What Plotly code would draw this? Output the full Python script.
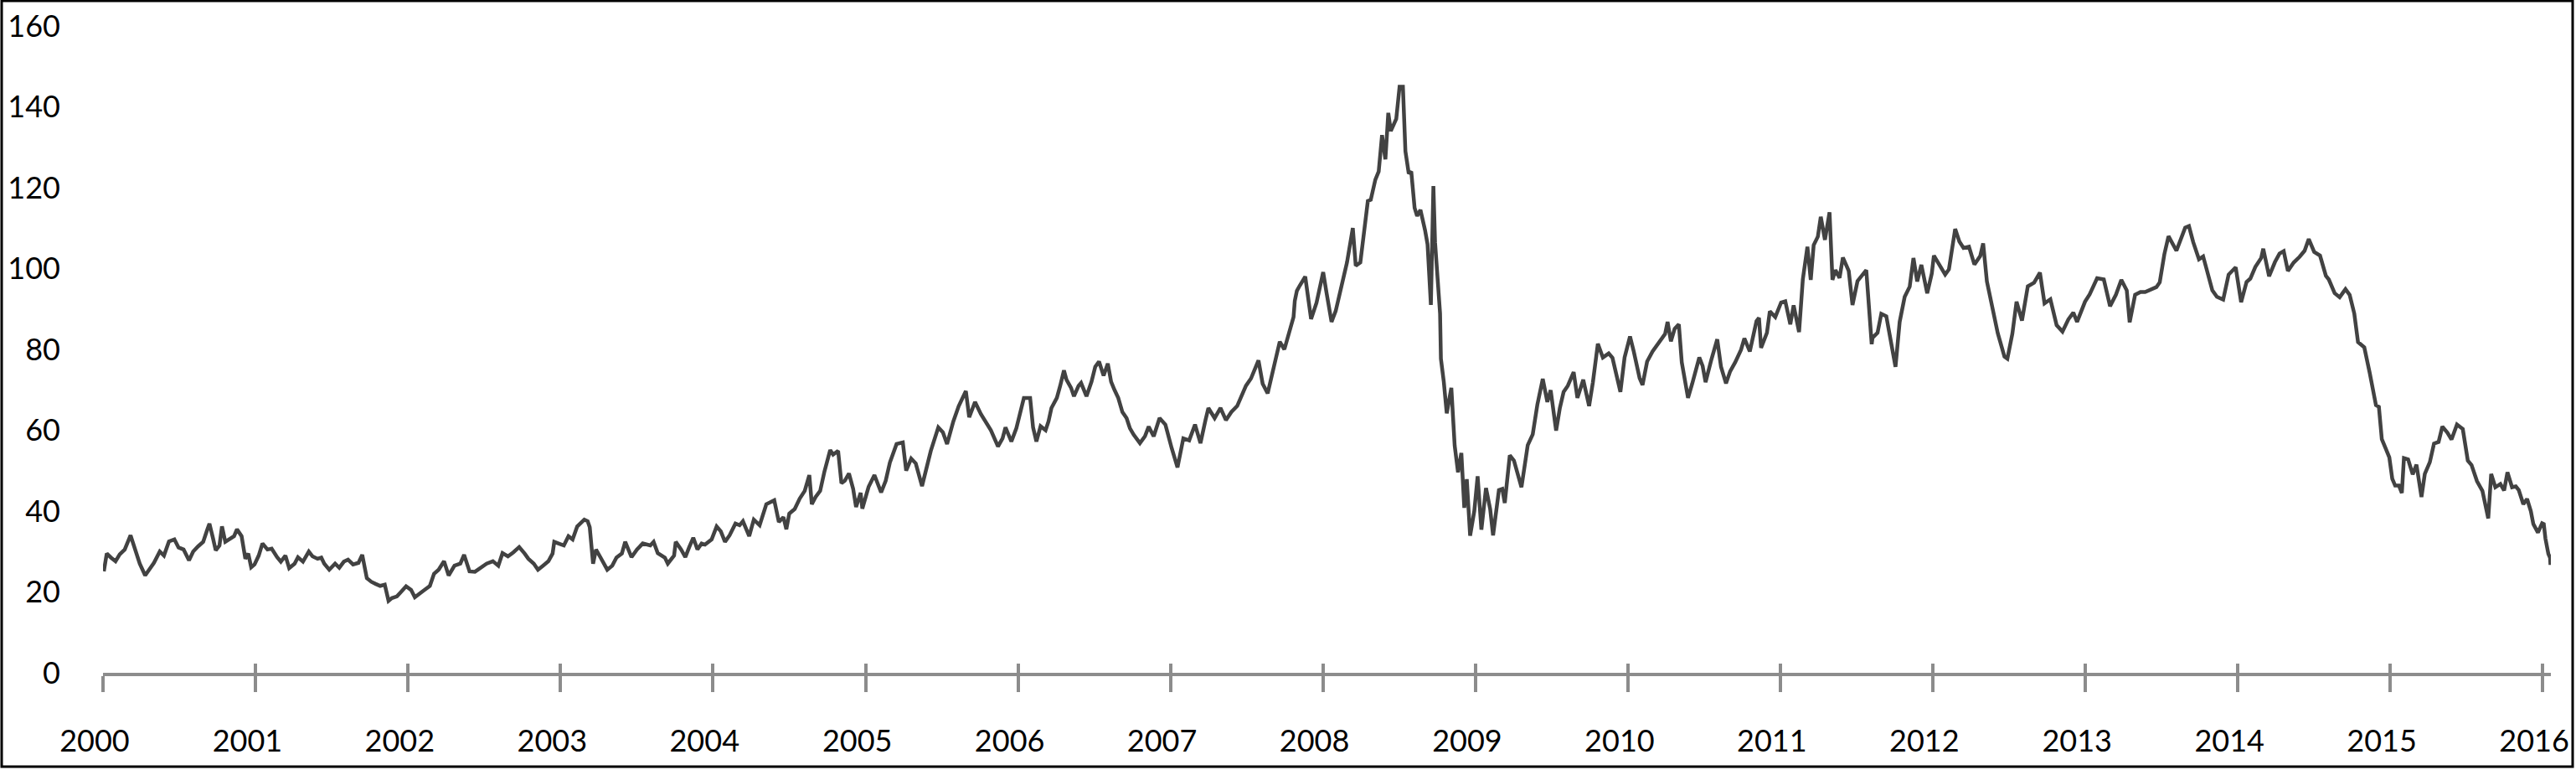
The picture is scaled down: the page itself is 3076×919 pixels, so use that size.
import plotly.graph_objects as go

# Daily crude price (USD/bbl) at roughly 2-3 points per month
wti_2000 = [("01-03", 25.1), ("01-10", 29.5), ("01-20", 28.5), ("01-31", 27.6), ("02-10", 29.3), ("02-22", 30.5),
            ("03-07", 34.0), ("03-17", 31.0), ("03-29", 27.0), ("04-11", 24.1), ("04-20", 25.5), ("05-02", 27.2),
            ("05-16", 30.0), ("05-26", 29.0), ("06-07", 32.5), ("06-20", 33.0), ("06-30", 31.0), ("07-12", 30.5),
            ("07-25", 27.8), ("08-04", 30.0), ("08-16", 31.3), ("08-28", 32.4), ("09-07", 35.5), ("09-12", 36.9),
            ("09-20", 33.5), ("09-27", 30.3), ("10-06", 31.5), ("10-12", 36.2), ("10-20", 32.4), ("10-30", 33.0),
            ("11-10", 33.8), ("11-17", 35.5), ("11-28", 33.8), ("12-07", 28.2), ("12-14", 29.5), ("12-21", 26.1),
            ("12-29", 26.8)]
wti_2001 = [("01-08", 29.0), ("01-17", 32.0), ("01-29", 30.5), ("02-08", 30.7), ("02-21", 28.6), ("03-02", 27.5),
            ("03-13", 29.0), ("03-22", 25.9), ("04-04", 27.0), ("04-12", 28.6), ("04-24", 27.5), ("05-08", 30.0),
            ("05-17", 28.8), ("05-29", 28.2), ("06-07", 28.5), ("06-14", 27.0), ("06-26", 25.5), ("07-10", 27.0),
            ("07-20", 26.0), ("07-31", 27.5), ("08-10", 28.0), ("08-22", 26.8), ("09-04", 27.2), ("09-13", 29.2),
            ("09-24", 23.4), ("10-05", 22.5), ("10-15", 22.0), ("10-26", 21.5), ("11-06", 21.8), ("11-15", 17.8),
            ("11-23", 18.5), ("12-05", 18.9), ("12-13", 19.8), ("12-27", 21.4)]
wti_2002 = [("01-08", 20.5), ("01-17", 18.7), ("01-31", 19.8), ("02-12", 20.7), ("02-22", 21.5), ("03-04", 24.5),
            ("03-15", 25.5), ("03-28", 27.6), ("04-08", 24.1), ("04-22", 26.5), ("05-06", 27.0), ("05-15", 29.2),
            ("05-28", 25.1), ("06-10", 25.0), ("06-24", 26.1), ("07-08", 27.0), ("07-23", 27.6), ("08-05", 26.5),
            ("08-15", 29.6), ("08-28", 28.8), ("09-10", 29.8), ("09-24", 31.1), ("10-07", 29.5), ("10-16", 28.2),
            ("10-29", 27.0), ("11-08", 25.5), ("11-20", 26.5), ("12-03", 27.6), ("12-13", 29.5), ("12-17", 32.4),
            ("12-27", 32.0)]
wti_2003 = [("01-09", 31.5), ("01-20", 33.8), ("01-30", 33.0), ("02-10", 36.2), ("02-27", 37.9), ("03-07", 37.5),
            ("03-12", 36.0), ("03-20", 27.0), ("03-27", 30.5), ("04-07", 28.5), ("04-23", 25.5), ("05-05", 26.5),
            ("05-15", 28.5), ("05-28", 29.5), ("06-05", 32.4), ("06-20", 28.6), ("07-03", 30.5), ("07-17", 32.0),
            ("08-04", 31.5), ("08-12", 32.4), ("08-22", 29.6), ("09-08", 28.5), ("09-15", 27.0), ("09-30", 29.0),
            ("10-04", 32.4), ("10-17", 30.5), ("10-27", 28.6), ("11-05", 31.0), ("11-15", 33.4), ("11-25", 30.5),
            ("12-05", 32.0), ("12-13", 31.7), ("12-29", 33.0)]
wti_2004 = [("01-10", 36.2), ("01-20", 35.0), ("01-30", 32.4), ("02-10", 34.0), ("02-24", 36.9), ("03-05", 36.5),
            ("03-13", 37.5), ("03-28", 33.8), ("04-08", 37.9), ("04-22", 36.5), ("05-08", 41.7), ("05-27", 42.7),
            ("06-07", 37.3), ("06-18", 38.5), ("06-25", 35.5), ("07-02", 39.4), ("07-15", 40.5), ("07-27", 43.1),
            ("08-08", 45.0), ("08-19", 48.9), ("08-25", 41.7), ("09-03", 43.5), ("09-14", 45.0), ("09-24", 49.7),
            ("10-08", 55.1), ("10-15", 54.0), ("10-27", 54.9), ("11-04", 46.9), ("11-12", 47.5), ("11-22", 49.3),
            ("12-02", 45.5), ("12-09", 41.0), ("12-20", 44.5), ("12-24", 40.6)]
wti_2005 = [("01-08", 46.0), ("01-22", 48.9), ("02-07", 44.6), ("02-18", 47.5), ("02-28", 52.0), ("03-16", 56.6),
            ("03-31", 57.0), ("04-08", 50.0), ("04-20", 53.0), ("05-01", 51.8), ("05-16", 46.2), ("05-27", 50.5),
            ("06-06", 54.9), ("06-24", 60.7), ("07-05", 59.5), ("07-15", 56.6), ("07-30", 62.2), ("08-12", 66.0),
            ("08-29", 69.7), ("09-06", 63.2), ("09-20", 67.0), ("10-04", 64.0), ("10-16", 62.2), ("10-28", 60.0),
            ("11-14", 56.0), ("11-25", 58.0), ("12-02", 60.7), ("12-16", 57.2), ("12-28", 60.5)]
wti_2006 = [("01-15", 68.0), ("01-30", 68.0), ("02-06", 60.7), ("02-14", 57.2), ("02-24", 61.0), ("03-08", 60.0),
            ("03-15", 62.2), ("03-22", 65.5), ("04-04", 68.0), ("04-12", 71.0), ("04-21", 74.8), ("04-27", 72.5),
            ("05-08", 70.5), ("05-15", 68.4), ("05-26", 71.0), ("06-01", 71.7), ("06-14", 68.4), ("06-26", 72.0),
            ("07-05", 75.7), ("07-14", 77.0), ("07-25", 73.5), ("08-04", 76.5), ("08-12", 72.0), ("08-20", 70.0),
            ("08-29", 68.0), ("09-08", 64.5), ("09-18", 63.0), ("09-26", 60.5), ("10-05", 58.9), ("10-20", 56.8),
            ("11-01", 58.5), ("11-10", 60.9), ("11-22", 58.5), ("12-06", 63.0), ("12-20", 61.4)]
wti_2007 = [("01-04", 55.6), ("01-18", 50.8), ("02-01", 58.0), ("02-15", 57.5), ("03-01", 61.4), ("03-14", 56.8),
            ("03-26", 62.5), ("04-02", 65.5), ("04-17", 63.0), ("05-01", 65.5), ("05-14", 62.5), ("05-27", 64.5),
            ("06-10", 66.0), ("06-22", 69.1), ("07-01", 71.0), ("07-13", 72.8), ("07-31", 77.3), ("08-10", 71.5),
            ("08-22", 69.1), ("09-02", 74.0), ("09-12", 78.5), ("09-20", 81.9), ("10-01", 80.0), ("10-12", 84.4),
            ("10-23", 88.0), ("10-26", 92.0), ("10-31", 94.5), ("11-07", 95.8), ("11-20", 98.0), ("11-28", 92.0),
            ("12-04", 87.5), ("12-17", 91.5), ("12-27", 96.0)]
wti_2008 = [("01-02", 99.1), ("01-10", 94.0), ("01-22", 86.8), ("02-01", 89.5), ("02-14", 95.5), ("02-28", 101.5),
            ("03-13", 110.0), ("03-20", 100.7), ("03-31", 101.5), ("04-09", 110.0), ("04-18", 116.7), ("04-25", 117.0),
            ("05-06", 122.0), ("05-14", 124.0), ("05-22", 133.0), ("05-30", 127.0), ("06-06", 138.5), ("06-12", 134.0),
            ("06-25", 137.0), ("07-03", 145.0), ("07-11", 145.0), ("07-17", 129.0), ("07-25", 123.5), ("07-31", 124.0),
            ("08-08", 115.0), ("08-14", 113.0), ("08-22", 114.5), ("09-02", 109.5), ("09-08", 106.0), ("09-16", 91.0),
            ("09-22", 120.4), ("09-26", 106.5), ("10-01", 98.5), ("10-08", 88.9), ("10-10", 77.7), ("10-17", 71.9),
            ("10-24", 64.2), ("11-04", 70.5), ("11-12", 56.2), ("11-20", 49.6), ("11-28", 54.4), ("12-05", 40.8),
            ("12-11", 47.9), ("12-19", 33.9), ("12-29", 40.0)]
wti_2009 = [("01-06", 48.6), ("01-15", 35.4), ("01-26", 45.7), ("02-05", 40.5), ("02-12", 34.0), ("02-26", 45.2),
            ("03-06", 45.5), ("03-12", 42.0), ("03-24", 53.8), ("04-03", 52.5), ("04-21", 45.9), ("05-06", 56.3),
            ("05-18", 59.0), ("05-29", 66.3), ("06-11", 72.7), ("06-22", 67.0), ("06-30", 69.9), ("07-13", 59.9),
            ("07-22", 65.5), ("07-31", 69.5), ("08-10", 71.0), ("08-24", 74.4), ("09-02", 68.0), ("09-16", 72.5),
            ("09-30", 66.0), ("10-09", 71.8), ("10-21", 81.4), ("11-02", 78.0), ("11-16", 79.0), ("11-25", 77.9),
            ("12-08", 72.5), ("12-14", 69.5), ("12-24", 78.0)]
wti_2010 = [("01-06", 83.2), ("01-15", 79.5), ("01-29", 72.9), ("02-05", 71.2), ("02-16", 77.0), ("03-01", 79.5),
            ("03-16", 81.5), ("03-31", 83.8), ("04-06", 86.8), ("04-14", 82.0), ("04-23", 85.1), ("05-03", 86.2),
            ("05-10", 76.8), ("05-25", 68.0), ("06-04", 71.5), ("06-21", 78.0), ("06-29", 75.9), ("07-06", 71.9),
            ("07-20", 77.5), ("08-03", 82.5), ("08-12", 75.7), ("08-24", 71.6), ("09-03", 74.6), ("09-15", 76.8),
            ("09-29", 79.9), ("10-07", 82.7), ("10-20", 79.5), ("11-05", 87.0), ("11-11", 87.8), ("11-16", 80.4),
            ("11-30", 84.1), ("12-07", 89.4), ("12-20", 88.0), ("12-31", 91.4)]
wti_2011 = [("01-03", 91.6), ("01-13", 91.9), ("01-25", 86.2), ("02-02", 90.9), ("02-15", 84.3), ("02-24", 97.3),
            ("03-07", 105.4), ("03-15", 97.2), ("03-22", 105.8), ("04-01", 107.9), ("04-08", 112.8), ("04-18", 107.1),
            ("04-29", 113.9), ("05-06", 97.2), ("05-13", 99.6), ("05-23", 97.7), ("05-31", 102.7), ("06-14", 99.4),
            ("06-23", 91.0), ("07-05", 96.9), ("07-26", 99.6), ("08-08", 81.3), ("08-10", 82.9), ("08-22", 84.1),
            ("08-31", 88.8), ("09-12", 88.2), ("09-26", 80.2), ("10-04", 75.7), ("10-14", 86.8), ("10-26", 93.0),
            ("11-07", 95.5), ("11-16", 102.6), ("11-25", 96.8), ("12-05", 100.9), ("12-19", 93.9), ("12-30", 98.8)]
wti_2012 = [("01-04", 103.2), ("01-17", 100.7), ("01-31", 98.5), ("02-09", 99.8), ("02-24", 109.8), ("03-05", 106.7),
            ("03-15", 105.1), ("03-28", 105.4), ("04-10", 101.0), ("04-24", 103.1), ("05-01", 106.2), ("05-10", 96.8),
            ("05-23", 89.9), ("06-05", 84.0), ("06-21", 78.2), ("06-28", 77.7), ("07-10", 83.9), ("07-20", 91.8),
            ("08-02", 87.1), ("08-16", 95.6), ("08-31", 96.5), ("09-14", 99.0), ("09-25", 91.4), ("10-09", 92.4),
            ("10-24", 86.0), ("11-07", 84.4), ("11-21", 87.4), ("12-03", 89.1), ("12-12", 86.8), ("12-31", 91.8)]
wti_2013 = [("01-11", 93.6), ("01-29", 97.6), ("02-14", 97.3), ("02-26", 92.6), ("03-01", 90.7), ("03-15", 93.5),
            ("03-28", 97.2), ("04-10", 94.6), ("04-17", 86.7), ("04-30", 93.5), ("05-13", 94.2), ("05-24", 94.2),
            ("06-06", 94.8), ("06-20", 95.4), ("06-28", 96.6), ("07-09", 103.5), ("07-19", 108.0), ("08-07", 104.4),
            ("08-28", 110.1), ("09-06", 110.5), ("09-16", 106.6), ("09-30", 102.3), ("10-10", 103.0), ("10-22", 98.3),
            ("11-01", 94.6), ("11-12", 93.0), ("11-27", 92.3), ("12-10", 98.5), ("12-27", 100.3)]
wti_2014 = [("01-09", 91.7), ("01-22", 96.7), ("01-31", 97.5), ("02-12", 100.4), ("02-26", 102.6), ("03-03", 104.9),
            ("03-17", 98.1), ("03-31", 101.6), ("04-11", 103.7), ("04-21", 104.3), ("05-01", 99.4), ("05-15", 101.5),
            ("05-29", 102.9), ("06-10", 104.4), ("06-20", 107.3), ("07-03", 104.1), ("07-17", 103.2), ("07-31", 98.2),
            ("08-07", 97.3), ("08-21", 93.9), ("09-02", 92.9), ("09-16", 94.9), ("09-26", 93.5), ("10-07", 88.9),
            ("10-16", 81.8), ("10-31", 80.5), ("11-13", 74.2), ("11-28", 66.2), ("12-05", 65.8), ("12-12", 57.8),
            ("12-22", 55.3), ("12-30", 53.3)]
wti_2015 = [("01-06", 48.0), ("01-13", 46.3), ("01-22", 46.3), ("01-29", 44.5), ("02-03", 53.1), ("02-13", 52.8),
            ("02-24", 49.1), ("03-05", 51.5), ("03-17", 43.5), ("03-25", 49.2), ("04-06", 52.1), ("04-16", 56.7),
            ("04-27", 57.1), ("05-06", 60.9), ("05-18", 59.4), ("05-28", 57.7), ("06-10", 61.4), ("06-24", 60.3),
            ("07-06", 52.5), ("07-15", 51.4), ("07-28", 47.4), ("08-10", 45.0), ("08-24", 38.2), ("08-31", 49.2),
            ("09-10", 45.9), ("09-22", 46.7), ("10-01", 45.1), ("10-09", 49.6), ("10-20", 45.9), ("10-29", 46.1),
            ("11-05", 45.2), ("11-16", 41.7), ("11-25", 43.0), ("12-04", 40.0), ("12-10", 36.8), ("12-21", 34.7),
            ("12-31", 37.0)]
wti_2016 = [("01-04", 36.8), ("01-08", 33.2), ("01-12", 30.4), ("01-15", 29.4), ("01-19", 28.5), ("01-20", 26.7)]

series = {2000: wti_2000, 2001: wti_2001, 2002: wti_2002, 2003: wti_2003, 2004: wti_2004, 2005: wti_2005,
          2006: wti_2006, 2007: wti_2007, 2008: wti_2008, 2009: wti_2009, 2010: wti_2010, 2011: wti_2011,
          2012: wti_2012, 2013: wti_2013, 2014: wti_2014, 2015: wti_2015, 2016: wti_2016}

years = list(range(2000, 2017))
y_ticks = [0, 20, 40, 60, 80, 100, 120, 140, 160]

dates, prices = [], []
for yr, pts in series.items():
    for md, v in pts:
        dates.append(f"{yr}-{md}")
        prices.append(v)

tick_dates = [f"{y}-01-01" for y in years]
tick_text = [str(y) for y in years]

W, H = 3076, 919
L, R, T, B = 123, 30, 31, 116
pw, ph = W - L - R, H - T - B
axis_grey = '#8c8c8c'

fig = go.Figure()
fig.add_trace(go.Scatter(x=dates, y=prices, mode='lines',
                         line=dict(color='#424242', width=4.5), hoverinfo='skip'))
# dummy trace so the second (inside-tick) axis gets drawn
fig.add_trace(go.Scatter(x=[dates[0]], y=[None], xaxis='x2', mode='lines', showlegend=False, hoverinfo='skip'))

fig.update_layout(
    width=W, height=H,
    margin=dict(l=L, r=R, t=T, b=B, autoexpand=False),
    plot_bgcolor='white',
    paper_bgcolor='white',
    showlegend=False,
    font=dict(family='Lato', size=36, color='black'),
    xaxis=dict(
        type='date', range=['2000-01-01', '2016-01-21'],
        tickmode='array', tickvals=tick_dates, ticktext=tick_text,
        ticks='outside', ticklen=19, tickwidth=4, tickcolor=axis_grey,
        showline=True, linecolor=axis_grey, linewidth=4,
        showgrid=False, zeroline=False, automargin=False,
        ticklabelstandoff=28, ticklabeloverflow='allow', ticklabelshift=-10,
    ),
    xaxis2=dict(
        type='date', overlaying='x', matches='x', anchor='y', side='bottom',
        tickmode='array', tickvals=tick_dates,
        ticks='inside', ticklen=11, tickwidth=4, tickcolor=axis_grey,
        showticklabels=False, showline=False, showgrid=False, zeroline=False,
    ),
    yaxis=dict(
        range=[0, 160], tickmode='array', tickvals=y_ticks,
        showgrid=False, zeroline=False, showline=False, ticks='',
        automargin=False, ticklabelstandoff=50,
    ),
    shapes=[dict(type='rect', xref='paper', yref='paper',
                 x0=-(L - 2) / pw, x1=1 + (R - 4) / pw,
                 y0=-(B - 4) / ph, y1=1 + (T - 1) / ph,
                 line=dict(color='black', width=3), fillcolor='rgba(0,0,0,0)')],
)

# page body has a default 8px margin; remove it so the figure fills the window exactly
fig.write_html("out.html", config={'displayModeBar': False},
               post_script="document.body.style.margin='0';document.body.style.overflow='hidden';")
